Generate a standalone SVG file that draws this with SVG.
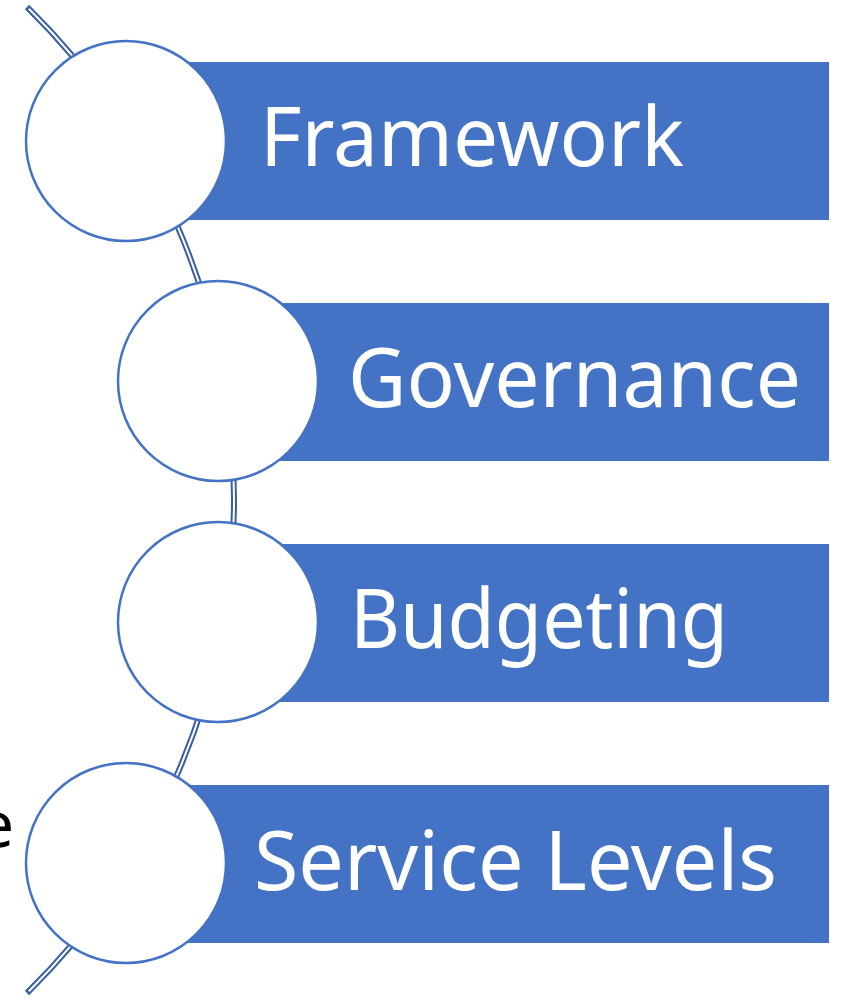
<svg xmlns="http://www.w3.org/2000/svg" width="841" height="1001" viewBox="0 0 841 1001">
  <style>
    .bar { fill: #4472C4; }
    .ring { fill: #FFFFFF; stroke: #4472C4; stroke-width: 2.5; }
    .lbl { fill: #FFFFFF; font-family: "Noto Sans", "Open Sans", "Liberation Sans", sans-serif; font-size: 82px; }
    .outer { fill: none; stroke: #3A5FA0; stroke-width: 6; }
    .inner { fill: none; stroke: #FFFFFF; stroke-width: 2; }
  </style>
  <rect x="0" y="0" width="841" height="1001" fill="#FFFFFF"/>
  <g id="connectors">
    <path class="outer" d="M 27 7 A 690.5 690.5 0 0 1 27 993"/>
    <path class="inner" d="M 27 7 A 690.5 690.5 0 0 1 27 993" pathLength="1000" stroke-dasharray="0 2.4 995.2 2.4"/>
  </g>
  <text x="14" y="847" text-anchor="end" font-family="Noto Sans, Liberation Sans, sans-serif" font-size="64" fill="#000000">e</text>
  <g id="node-framework">
    <rect class="bar" x="126" y="62" width="703" height="158"/>
    <circle class="ring" cx="126" cy="141" r="100"/>
    <text class="lbl" x="260" y="166" textLength="424" lengthAdjust="spacingAndGlyphs">Framework</text>
  </g>
  <g id="node-governance">
    <rect class="bar" x="218" y="303" width="611" height="158"/>
    <circle class="ring" cx="218" cy="381" r="100"/>
    <text class="lbl" x="348" y="407" textLength="453" lengthAdjust="spacingAndGlyphs">Governance</text>
  </g>
  <g id="node-budgeting">
    <rect class="bar" x="218" y="544" width="611" height="158"/>
    <circle class="ring" cx="218" cy="622" r="100"/>
    <text class="lbl" x="350" y="648" textLength="378" lengthAdjust="spacingAndGlyphs">Budgeting</text>
  </g>
  <g id="node-service-levels">
    <rect class="bar" x="126" y="785" width="703" height="158"/>
    <circle class="ring" cx="126" cy="863" r="100"/>
    <text class="lbl" x="254" y="890" textLength="523" lengthAdjust="spacingAndGlyphs">Service Levels</text>
  </g>
</svg>
